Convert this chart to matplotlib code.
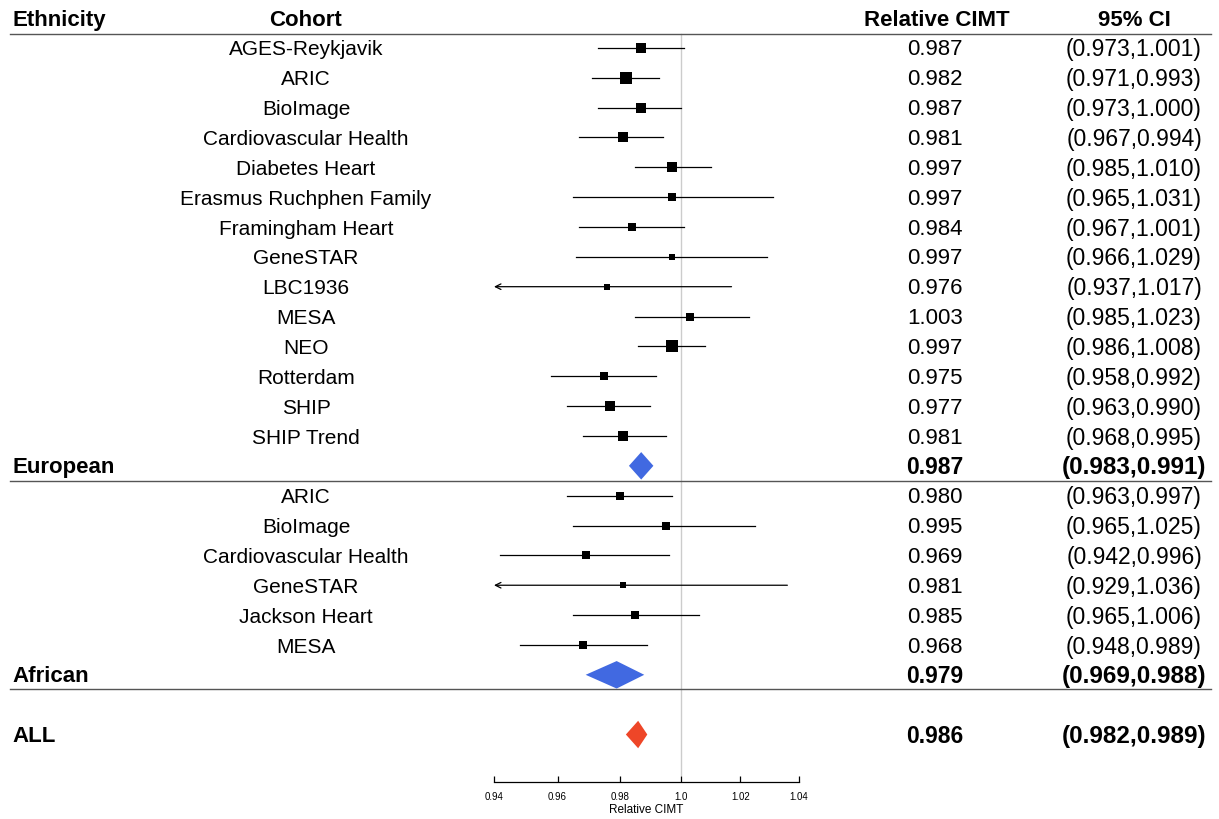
import matplotlib.pyplot as plt
from matplotlib.patches import Polygon
from matplotlib.transforms import blended_transform_factory
from matplotlib.ticker import FixedLocator, NullLocator

plt.rcParams['font.family'] = ['Liberation Sans', 'DejaVu Sans']

# European cohorts
eur_cohorts = ["AGES-Reykjavik", "ARIC", "BioImage", "Cardiovascular Health",
               "Diabetes Heart", "Erasmus Ruchphen Family", "Framingham Heart",
               "GeneSTAR", "LBC1936", "MESA", "NEO", "Rotterdam", "SHIP", "SHIP Trend"]
eur_est = [0.987, 0.982, 0.987, 0.981, 0.997, 0.997, 0.984, 0.997, 0.976, 1.003, 0.997, 0.975, 0.977, 0.981]
eur_lo = [0.973, 0.971, 0.973, 0.967, 0.985, 0.965, 0.967, 0.966, 0.937, 0.985, 0.986, 0.958, 0.963, 0.968]
eur_hi = [1.001, 0.993, 1.000, 0.994, 1.010, 1.031, 1.001, 1.029, 1.017, 1.023, 1.008, 0.992, 0.990, 0.995]
eur_box = [8.7, 10, 9, 9, 9, 6.7, 8, 6, 6, 7.3, 10, 8, 9, 9]   # box side, px (weight)

# African cohorts
afr_cohorts = ["ARIC", "BioImage", "Cardiovascular Health", "GeneSTAR", "Jackson Heart", "MESA"]
afr_est = [0.980, 0.995, 0.969, 0.981, 0.985, 0.968]
afr_lo = [0.963, 0.965, 0.942, 0.929, 0.965, 0.948]
afr_hi = [0.997, 1.025, 0.996, 1.036, 1.006, 0.989]
afr_box = [8, 6.7, 7.3, 5.7, 7.3, 7.3]

# pooled estimates
groups = ["European", "African", "ALL"]
grp_est = [0.987, 0.979, 0.986]
grp_lo = [0.983, 0.969, 0.982]
grp_hi = [0.991, 0.988, 0.989]
grp_color = ["#4169E1", "#4169E1", "#EE4628"]

xticks = [0.94, 0.96, 0.98, 1.0, 1.02, 1.04]
xticklabels = ["0.94", "0.96", "0.98", "1.0", "1.02", "1.04"]

W, H = 1219, 819
fig = plt.figure(figsize=(W / 100, H / 100), dpi=100)
ax = fig.add_axes([494 / W, 0, 305 / W, 1])
ax.set_xscale('log')
ax.set_xlim(0.94, 1.04)
ax.set_ylim(26.83, -0.603)
ax.patch.set_alpha(0)

tr = blended_transform_factory(fig.transFigure, ax.transData)

def txt(xpx, y, s, size, ha='center', bold=False):
    ax.text(xpx / W, y + 0.07, s, transform=tr, ha=ha, va='center', fontsize=size,
            fontweight='bold' if bold else 'normal')

# header
txt(12, 0, "Ethnicity", 16, ha='left', bold=True)
txt(306, 0, "Cohort", 16, bold=True)
txt(937, 0, "Relative CIMT", 16, bold=True)
txt(1134, 0, "95% CI", 16, bold=True)

# horizontal rules
for yl in [0.536, 15.5, 22.47]:
    ax.plot([10 / W, 1211 / W], [yl, yl], transform=tr, color='#555555', lw=1.0, clip_on=False)

# reference line
ax.plot([1.0, 1.0], [0.54, 25.35], color='#cccccc', lw=1.0, zorder=0)

xmin = ax.get_xlim()[0]

def cohort_rows(names, est, lo, hi, box, y0):
    for i in range(len(names)):
        y = y0 + i
        txt(306, y, names[i], 15)
        txt(935, y, "%.3f" % est[i], 16)
        txt(1134, y, "(%.3f,%.3f)" % (lo[i], hi[i]), 16.5)
        if lo[i] < xmin:
            ax.annotate('', xy=(xmin, y), xytext=(hi[i], y),
                        arrowprops=dict(arrowstyle='->', lw=0.9, color='black',
                                        shrinkA=0, shrinkB=0, mutation_scale=10))
        else:
            ax.plot([lo[i], hi[i]], [y, y], color='black', lw=0.9, zorder=2)
        ax.scatter([est[i]], [y], marker='s', s=(box[i] * 0.8) ** 2,
                   color='black', linewidths=0, zorder=3)

cohort_rows(eur_cohorts, eur_est, eur_lo, eur_hi, eur_box, 1)
cohort_rows(afr_cohorts, afr_est, afr_lo, afr_hi, afr_box, 16)

grp_y = [15, 22, 24]
for g, y, e, l, h, c in zip(groups, grp_y, grp_est, grp_lo, grp_hi, grp_color):
    txt(12, y, g, 16, ha='left', bold=True)
    txt(935, y, "%.3f" % e, 16.5, bold=True)
    txt(1134, y, "(%.3f,%.3f)" % (l, h), 17.5, bold=True)
    hh = 0.46
    ax.add_patch(Polygon([(l, y), (e, y - hh), (h, y), (e, y + hh)], closed=True,
                         facecolor=c, edgecolor='none', zorder=3))

# x axis
for side in ['top', 'left', 'right']:
    ax.spines[side].set_visible(False)
ax.spines['bottom'].set_position(('data', 25.6))
ax.spines['bottom'].set_bounds(0.94, 1.04)
ax.spines['bottom'].set_linewidth(0.9)
ax.xaxis.set_major_locator(FixedLocator(xticks))
ax.xaxis.set_minor_locator(NullLocator())
ax.set_xticklabels(xticklabels)
ax.tick_params(axis='x', direction='in', length=4, width=0.9, labelsize=7, pad=7)
ax.set_yticks([])
ax.set_xlabel("Relative CIMT", fontsize=8.5)
ax.xaxis.set_label_coords(0.5, 1 - 810 / H)
ax.xaxis.label.set_va('center')

fig.savefig("out.png", dpi=100)
